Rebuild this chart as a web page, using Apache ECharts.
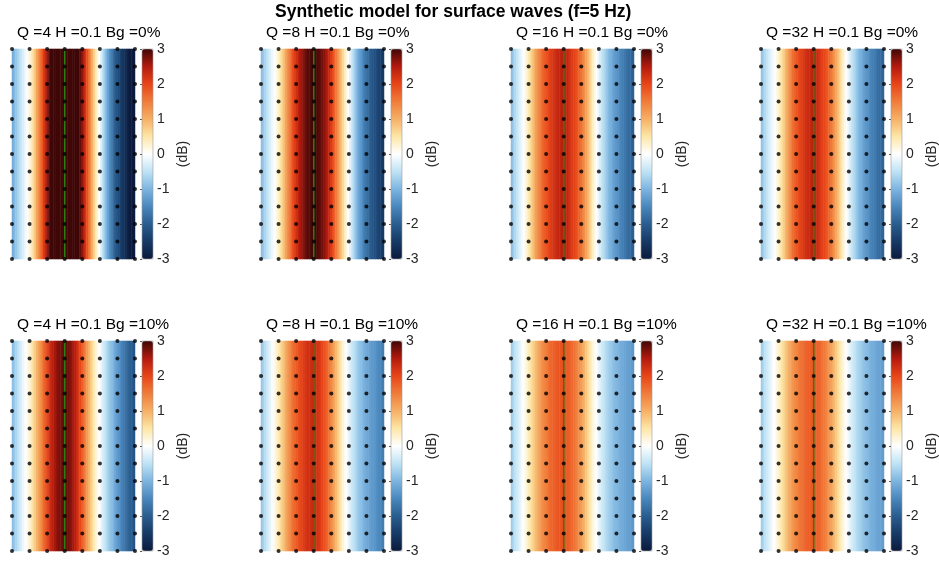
<!DOCTYPE html>
<html><head><meta charset="utf-8">
<script src="https://cdn.jsdelivr.net/npm/echarts@6/dist/echarts.min.js"></script>
<style>html,body{margin:0;padding:0;background:#fff}#c{width:939px;height:561px}</style>
</head><body><div id="c"></div>
<script>
// ---------- data ----------
const mainTitle = 'Synthetic model for surface waves (f=5 Hz)';
const panelTitles = [
  'Q =4 H =0.1 Bg =0%', 'Q =8 H =0.1 Bg =0%', 'Q =16 H =0.1 Bg =0%', 'Q =32 H =0.1 Bg =0%',
  'Q =4 H =0.1 Bg =10%', 'Q =8 H =0.1 Bg =10%', 'Q =16 H =0.1 Bg =10%', 'Q =32 H =0.1 Bg =10%'
];
const colorbarTicks = [-3, -2, -1, 0, 1, 2, 3];
const colorbarLabel = '(dB)';
// station grid (dot columns / rows) and source column (green line)
const dotCols = [0, 1, 2, 3, 4, 5, 6, 7];
const dotRows = [0, 1, 2, 3, 4, 5, 6, 7, 8, 9, 10, 11, 12];
const sourceCol = 3;
// amplitude (dB) profiles across x (71 samples from left to right edge)
const q4bg0 = [-1.1,-0.95,-0.8,-0.68,-0.55,-0.42,-0.3,-0.18,-0.05,0.1,
  0.25,0.42,0.6,0.85,1.1,1.35,1.6,1.85,2.1,2.35,
  2.6,2.8,3.0,3.15,3.3,3.4,3.5,3.55,3.6,3.63,
  3.65,3.63,3.6,3.55,3.5,3.4,3.3,3.15,3.0,2.85,
  2.7,2.45,2.2,1.9,1.6,1.3,1.0,0.72,0.45,0.22,
  0.0,-0.25,-0.5,-0.75,-1.0,-1.2,-1.4,-1.6,-1.8,-1.95,
  -2.1,-2.25,-2.4,-2.5,-2.6,-2.72,-2.85,-2.93,-3.0,-3.05,-3.1];
const q8bg0 = [-0.9,-0.78,-0.65,-0.52,-0.4,-0.27,-0.15,-0.05,0.05,0.2,
  0.35,0.52,0.7,0.9,1.1,1.3,1.5,1.7,1.9,2.08,
  2.25,2.38,2.5,2.6,2.7,2.78,2.85,2.9,2.95,2.98,
  3.0,2.98,2.95,2.9,2.85,2.78,2.7,2.58,2.45,2.3,
  2.15,1.95,1.75,1.52,1.3,1.08,0.85,0.62,0.4,0.2,
  0.0,-0.2,-0.4,-0.6,-0.8,-0.98,-1.15,-1.3,-1.45,-1.58,
  -1.7,-1.8,-1.9,-2.0,-2.1,-2.18,-2.25,-2.33,-2.4,-2.45,-2.5];
const q16bg0 = [-0.9,-0.75,-0.6,-0.48,-0.35,-0.22,-0.1,0.02,0.15,0.3,
  0.45,0.62,0.8,0.98,1.15,1.3,1.45,1.58,1.7,1.8,
  1.9,1.98,2.05,2.12,2.2,2.25,2.3,2.35,2.4,2.43,
  2.45,2.4,2.35,2.28,2.2,2.12,2.05,1.95,1.85,1.72,
  1.6,1.45,1.3,1.12,0.95,0.75,0.55,0.35,0.15,0.0,
  -0.15,-0.3,-0.45,-0.58,-0.7,-0.82,-0.95,-1.05,-1.15,-1.22,
  -1.3,-1.38,-1.45,-1.52,-1.6,-1.68,-1.75,-1.8,-1.85,-1.9,-1.95];
const q32bg0 = [-0.85,-0.72,-0.6,-0.48,-0.35,-0.25,-0.15,-0.05,0.05,0.18,
  0.3,0.45,0.6,0.78,0.95,1.12,1.3,1.45,1.6,1.72,
  1.85,1.92,2.0,2.08,2.15,2.2,2.25,2.3,2.35,2.38,
  2.4,2.35,2.3,2.22,2.15,2.08,2.0,1.9,1.8,1.68,
  1.55,1.4,1.25,1.08,0.9,0.7,0.5,0.32,0.15,0.0,
  -0.15,-0.3,-0.45,-0.58,-0.7,-0.82,-0.95,-1.05,-1.15,-1.22,
  -1.3,-1.38,-1.45,-1.52,-1.6,-1.66,-1.72,-1.77,-1.82,-1.86,-1.9];
const q4bg10 = [-0.9,-0.78,-0.65,-0.52,-0.4,-0.28,-0.15,-0.05,0.05,0.18,
  0.3,0.45,0.6,0.78,0.95,1.12,1.3,1.48,1.65,1.82,
  2.0,2.15,2.3,2.42,2.55,2.62,2.7,2.75,2.8,2.83,
  2.85,2.83,2.8,2.72,2.65,2.55,2.45,2.3,2.15,1.98,
  1.8,1.6,1.4,1.2,1.0,0.8,0.6,0.42,0.25,0.12,
  0.0,-0.15,-0.3,-0.42,-0.55,-0.68,-0.8,-0.9,-1.0,-1.12,
  -1.25,-1.35,-1.45,-1.55,-1.65,-1.75,-1.85,-1.92,-2.0,-2.05,-2.1];
const q8bg10 = [-0.8,-0.68,-0.55,-0.42,-0.3,-0.18,-0.05,0.08,0.2,0.32,
  0.45,0.6,0.75,0.9,1.05,1.2,1.35,1.48,1.6,1.7,
  1.8,1.88,1.95,2.02,2.1,2.15,2.2,2.24,2.28,2.29,
  2.3,2.27,2.22,2.17,2.1,2.0,1.9,1.8,1.7,1.55,
  1.4,1.25,1.1,0.92,0.75,0.58,0.4,0.25,0.1,-0.02,
  -0.15,-0.28,-0.4,-0.5,-0.6,-0.7,-0.8,-0.88,-0.95,-1.02,
  -1.1,-1.15,-1.2,-1.25,-1.3,-1.35,-1.4,-1.45,-1.5,-1.55,-1.6];
const q16bg10 = [-0.75,-0.62,-0.5,-0.4,-0.3,-0.18,-0.05,0.05,0.15,0.28,
  0.4,0.52,0.65,0.78,0.9,1.02,1.15,1.25,1.35,1.42,
  1.5,1.58,1.65,1.7,1.75,1.78,1.82,1.85,1.87,1.89,
  1.9,1.87,1.83,1.78,1.72,1.65,1.58,1.5,1.4,1.3,
  1.2,1.08,0.95,0.8,0.65,0.5,0.35,0.22,0.1,-0.02,
  -0.15,-0.25,-0.35,-0.45,-0.55,-0.62,-0.7,-0.78,-0.85,-0.9,
  -0.95,-1.0,-1.05,-1.08,-1.12,-1.16,-1.2,-1.22,-1.25,-1.28,-1.3];
const q32bg10 = [-0.75,-0.62,-0.5,-0.4,-0.3,-0.2,-0.1,0.0,0.1,0.2,
  0.3,0.42,0.55,0.68,0.8,0.92,1.05,1.15,1.25,1.34,
  1.42,1.48,1.55,1.6,1.65,1.7,1.73,1.77,1.8,1.81,
  1.82,1.8,1.76,1.72,1.66,1.6,1.52,1.44,1.35,1.25,
  1.15,1.02,0.9,0.76,0.62,0.48,0.35,0.22,0.1,-0.01,
  -0.12,-0.22,-0.32,-0.41,-0.5,-0.58,-0.65,-0.72,-0.8,-0.85,
  -0.9,-0.95,-1.0,-1.04,-1.08,-1.12,-1.15,-1.18,-1.2,-1.23,-1.25];
const profiles = [q4bg0, q8bg0, q16bg0, q32bg0, q4bg10, q8bg10, q16bg10, q32bg10];
const colorLimits = [-3, 3];
// ---------- style ----------
const cmap = ['#0b1a3d','#163a66','#2a5d8f','#4a87bd','#7db5e0','#bfe3f5','#ffffff',
              '#fde6a6','#f6b066','#f07c3a','#e84518','#b31a0e','#3f0707'];
const FONT = '"Liberation Sans", Arial, Helvetica, sans-serif';
const lefts = [12, 261, 511, 761];
const tops = [49, 341];
const W = 123, H = 210, CBX = 130, CBW = 11;

const chart = echarts.init(document.getElementById('c'));
const grid = [], xAxis = [], yAxis = [], series = [], visualMap = [], title = [], graphic = [];
title.push({text: mainTitle, left: 275, top: 3, padding: 0,
  textStyle: {fontFamily: FONT, fontSize: 17.5, fontWeight: 'bold', color: '#000'}});

profiles.forEach((prof, p) => {
  const L = lefts[p % 4], T = tops[Math.floor(p / 4)];
  const cats = prof.map((_, i) => i);
  grid.push({left: L, top: T, width: W, height: H});
  grid.push({left: L + CBX, top: T, width: CBW, height: H, show: true, borderColor: '#9a9a9a', borderWidth: 0.6, backgroundColor: 'transparent', z: 10});
  const g0 = 2 * p, g1 = 2 * p + 1;
  const xi = xAxis.length, yi = yAxis.length;
  xAxis.push({type: 'category', gridIndex: g0, data: cats, show: false});
  xAxis.push({type: 'value', gridIndex: g0, min: 0, max: dotCols[dotCols.length - 1], show: false});
  xAxis.push({type: 'value', gridIndex: g1, min: 0, max: 1, show: false});
  yAxis.push({type: 'category', gridIndex: g0, data: ['r'], show: false});
  yAxis.push({type: 'value', gridIndex: g0, min: 0, max: dotRows[dotRows.length - 1], show: false});
  yAxis.push({type: 'value', gridIndex: g1, position: 'right', min: colorbarTicks[0], max: colorbarTicks[colorbarTicks.length - 1], interval: 1,
    axisLine: {show: false}, splitLine: {show: false},
    axisTick: {show: true, inside: true, length: 2, lineStyle: {color: '#555'}},
    axisLabel: {fontFamily: FONT, fontSize: 14, color: '#262626', margin: 4}});
  const si = series.length;
  series.push({type: 'heatmap', xAxisIndex: xi, yAxisIndex: yi, silent: true, itemStyle: {borderWidth: 0},
    data: prof.map((v, i) => [i, 0, Math.max(colorLimits[0], Math.min(colorLimits[1], v))])});
  series.push({type: 'line', xAxisIndex: xi + 1, yAxisIndex: yi + 1, silent: true, symbol: 'none',
    data: [[sourceCol, dotRows[0]], [sourceCol, dotRows[dotRows.length - 1]]],
    lineStyle: {color: '#2a7d12', width: 1.5}, z: 3});
  const dots = [];
  dotCols.forEach(c => dotRows.forEach(r => dots.push([c, r])));
  series.push({type: 'scatter', xAxisIndex: xi + 1, yAxisIndex: yi + 1, silent: true, symbolSize: 4,
    itemStyle: {color: '#000'}, data: dots, z: 4});
  visualMap.push({type: 'continuous', min: colorLimits[0], max: colorLimits[1], seriesIndex: si,
    calculable: false, hoverLink: false, padding: 0, itemWidth: CBW, itemHeight: H,
    left: L + CBX, top: T, inRange: {color: cmap}, text: null, showLabel: false});
  title.push({text: panelTitles[p], left: L + 5, top: T - 24, padding: 0,
    textStyle: {fontFamily: FONT, fontSize: 15.5, fontWeight: 'normal', color: '#000'}});
  graphic.push({type: 'text', x: L + 171, y: T + H / 2, rotation: Math.PI / 2,
    style: {text: colorbarLabel, font: '14px ' + FONT, fill: '#262626', align: 'center', verticalAlign: 'middle'}});
});

chart.setOption({animation: false, backgroundColor: '#fff', title, grid, xAxis, yAxis, series, visualMap, graphic});
</script></body></html>
